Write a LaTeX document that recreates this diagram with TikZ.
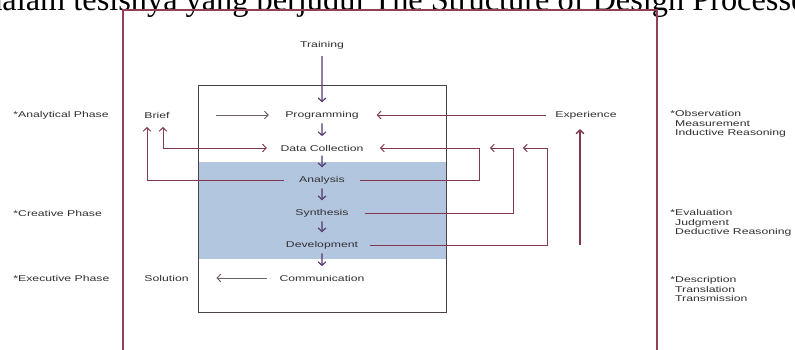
\documentclass[tikz,border=0pt]{standalone}
\usepackage{fontspec}
\setmainfont{Liberation Sans}
\newfontfamily\headfont{Liberation Serif}
\usepackage{xcolor}
\usepackage{tikz}
\usetikzlibrary{arrows.meta}
\definecolor{txtgrey}{RGB}{50,46,50}
\definecolor{linered}{RGB}{130,55,80}
\definecolor{linegrey}{RGB}{110,95,105}
\definecolor{flowpurple}{RGB}{85,55,110}
\definecolor{framered}{RGB}{145,65,85}
\definecolor{boxgrey}{RGB}{75,65,72}
\definecolor{panelblue}{RGB}{178,199,223}

\begin{document}
\begin{tikzpicture}[
        x=0.025cm, y=-0.025cm,
        stage/.style={font=\fontsize{6}{6.8}\selectfont, text=txtgrey, inner sep=1pt, xscale=1.45, transform shape},
        phase/.style={stage, anchor=west},
        note/.style={stage, anchor=west, align=left},
        arrow/.style={-{Straight Barb[length=2.6pt,width=5.5pt]}, line width=0.7pt, draw=linered},
        flow/.style={-{Straight Barb[length=2.6pt,width=5.5pt]}, line width=0.8pt, draw=flowpurple, shorten <=2pt, shorten >=5pt}
    ]
        \useasboundingbox (0,0) rectangle (795,349);
        \clip (0,0) rectangle (795,349);

        % Heading line, cut at the top
        \node[anchor=base west, inner sep=0pt, font=\headfont\fontsize{23}{26}\selectfont] (head) at (-14,10) {dalam tesisnya yang berjudul The Structure of Design Processes};

        % Frames
        \draw[line width=0.8pt, draw=framered] (123,10) rectangle (657,370);
        \fill[panelblue] (198,162) rectangle (446,259);
        \draw[line width=0.7pt, draw=boxgrey] (198,85) rectangle (446,312);

        % Process stages
        \node[stage] (train) at (322,45) {Training};
        \node[stage] (prog) at (322,115) {Programming};
        \node[stage] (data) at (322,148) {Data Collection};
        \node[stage] (anal) at (322,180) {Analysis};
        \node[stage] (synth) at (322,213) {Synthesis};
        \node[stage] (devel) at (322,245) {Development};
        \node[stage] (comm) at (322,278) {Communication};
        \node[stage, anchor=west] (brief) at (142,115) {Brief};
        \node[stage, anchor=west] (sol) at (142,278) {Solution};
        \node[stage] (exper) at (586,115) {Experience};

        % Phases
        \node[phase] (analph) at (11,115) {*Analytical Phase};
        \node[phase] (creaph) at (11,213) {*Creative Phase};
        \node[phase] (execph) at (11,278) {*Executive Phase};

        % Notes
        \node[note] (obs) at (668,124) {*Observation\\\phantom{*}Measurement\\\phantom{*}Inductive Reasoning};
        \node[note] (eval) at (668,223) {*Evaluation\\\phantom{*}Judgment\\\phantom{*}Deductive Reasoning};
        \node[note] (desc) at (668,289) {*Description\\\phantom{*}Translation\\\phantom{*}Transmission};

        % Free ends
        \coordinate (briefA) at (147,127);
        \coordinate (briefB) at (163,127);
        \coordinate (loopA) at (479,148);
        \coordinate (loopS) at (513,148);
        \coordinate (tipS) at (490,148);
        \coordinate (loopD) at (547,148);
        \coordinate (tipD) at (523,148);
        \coordinate (expbase) at (580,245);

        % Main flow
        \draw[flow, shorten <=4pt] (train) -- (prog);
        \draw[flow] (prog) -- (data);
        \draw[flow] (data) -- (anal);
        \draw[flow] (anal) -- (synth);
        \draw[flow] (synth) -- (devel);
        \draw[flow] (devel) -- (comm);

        % Side arrows
        \draw[arrow, draw=linegrey, shorten <=31pt, shorten >=10pt] (brief) -- (prog);
        \draw[arrow, shorten <=5pt, shorten >=11pt] (exper) -- (prog);
        \draw[arrow, draw=linegrey, shorten <=7pt, shorten >=18pt] (comm) -- (sol);
        \draw[arrow, {Straight Barb[length=2.6pt,width=5.5pt]}-{Straight Barb[length=2.6pt,width=5.5pt]}, shorten >=8pt] (briefB) |- (data.west);
        \draw[arrow, shorten <=9pt] (anal.west) -| (briefA);
        \draw[arrow, shorten <=9pt] (anal.east) -| (loopA) -- ([xshift=10pt]data.east);
        \draw[arrow, shorten <=10pt] (synth.east) -| (loopS) -- (tipS);
        \draw[arrow, shorten <=7pt] (devel.east) -| (loopD) -- (tipD);
        \draw[arrow, line width=1pt, shorten >=6pt] (expbase) -- (expbase |- exper.south);
    \end{tikzpicture}
\end{document}
